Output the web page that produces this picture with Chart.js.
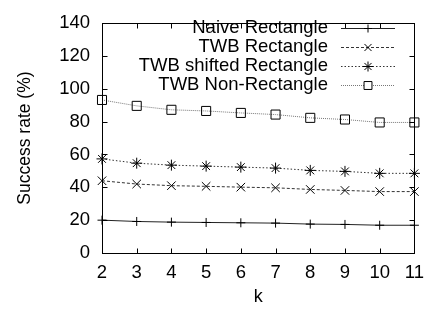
<!DOCTYPE html>
<html>
<head>
<meta charset="utf-8">
<script src="https://cdn.jsdelivr.net/npm/chart.js@4/dist/chart.umd.min.js"></script>
<style>
  body { margin: 0; background: #fff; }
  canvas { display: block; }
</style>
</head>
<body>
<canvas id="c" width="433" height="311"></canvas>
<script>
const ks = [2, 3, 4, 5, 6, 7, 8, 9, 10, 11];
const naiveRect = [20, 19.2, 18.8, 18.6, 18.4, 18.2, 17.6, 17.4, 16.9, 16.9];
const twbRect = [44, 42, 41, 40.6, 40.1, 39.7, 38.7, 38.1, 37.4, 37.4];
const twbShifted = [57.3, 54.7, 53.5, 52.9, 52.3, 51.7, 50.3, 49.7, 48.5, 48.5];
const twbNonRect = [93.2, 89.6, 87.2, 86.5, 85.3, 84.3, 82.3, 81.3, 79.5, 79.5];
const seriesNames = ["Naive Rectangle", "TWB Rectangle", "TWB shifted Rectangle", "TWB Non-Rectangle"];

const FONT = "'Liberation Sans', Arial, Helvetica, sans-serif";

function pts(vals) {
  return vals.map((v, i) => ({ x: ks[i], y: v }));
}

function ds(label, vals, style, dash, color, radius, legendRadius) {
  return {
    label: label,
    data: pts(vals),
    borderColor: color,
    borderWidth: 1,
    borderDash: dash,
    pointStyle: style,
    pointRadius: radius,
    pointBorderColor: "#000",
    pointBackgroundColor: "rgba(0,0,0,0)",
    pointBorderWidth: 1,
    legendRadius: legendRadius,
    fill: false,
    tension: 0,
    clip: false
  };
}

// gnuplot style frame with inward ticks on all four sides
const frame = {
  id: "frame",
  afterDraw(chart) {
    const ctx = chart.ctx, a = chart.chartArea;
    const x = chart.scales.x, y = chart.scales.y;
    ctx.save();
    ctx.strokeStyle = "#000";
    ctx.lineWidth = 1;
    const L = Math.round(a.left) + 0.5, R = Math.round(a.right) + 0.5;
    const T = Math.round(a.top) + 0.5, B = Math.round(a.bottom) + 0.5;
    ctx.strokeRect(L, T, R - L, B - T);
    ctx.beginPath();
    y.ticks.forEach(t => {
      const py = Math.round(y.getPixelForValue(t.value)) + 0.5;
      ctx.moveTo(L, py); ctx.lineTo(L + 5, py);
      ctx.moveTo(R, py); ctx.lineTo(R - 5, py);
    });
    x.ticks.forEach(t => {
      const px = Math.round(x.getPixelForValue(t.value)) + 0.5;
      ctx.moveTo(px, B); ctx.lineTo(px, B - 5);
      ctx.moveTo(px, T); ctx.lineTo(px, T + 5);
    });
    ctx.stroke();
    ctx.restore();
  }
};

// legend inside plot: right-aligned text, line sample to the right
const keyBox = {
  id: "keyBox",
  afterDraw(chart) {
    const ctx = chart.ctx;
    ctx.save();
    ctx.font = "18.5px " + FONT;
    ctx.textAlign = "right";
    ctx.textBaseline = "middle";
    chart.data.datasets.forEach((d, i) => {
      const yy = 28 + i * 19;
      ctx.fillStyle = "#000";
      ctx.fillText(d.label, 328, yy);
      ctx.strokeStyle = d.borderColor;
      ctx.lineWidth = 1;
      ctx.setLineDash(d.borderDash);
      ctx.beginPath();
      ctx.moveTo(341, yy + 0.5);
      ctx.lineTo(395, yy + 0.5);
      ctx.stroke();
      ctx.setLineDash([]);
      ctx.strokeStyle = "#000";
      ctx.fillStyle = "#fff";
      Chart.helpers.drawPoint(ctx, {
        pointStyle: d.pointStyle, radius: d.legendRadius, borderWidth: 1, rotation: 0
      }, 368, yy + 0.5);
    });
    ctx.restore();
  }
};

new Chart(document.getElementById("c"), {
  type: "line",
  data: {
    datasets: [
      ds(seriesNames[0], naiveRect, "cross", [], "#222", 4.5, 4),
      ds(seriesNames[1], twbRect, "crossRot", [3, 2], "#333", 6, 5),
      ds(seriesNames[2], twbShifted, "star", [1.5, 2], "#333", 5.5, 5),
      ds(seriesNames[3], twbNonRect, "rect", [1, 1], "#777", 6.4, 5.6)
    ]
  },
  options: {
    responsive: false,
    animation: false,
    devicePixelRatio: 1,
    layout: { padding: { top: 14, right: 15, left: 0, bottom: 0 } },
    plugins: { legend: { display: false }, tooltip: { enabled: false } },
    scales: {
      x: {
        type: "linear",
        min: 2, max: 11,
        grid: { display: false, drawTicks: false },
        border: { display: false },
        ticks: { stepSize: 1, color: "#000", padding: 9, font: { family: FONT, size: 18.5 } },
        title: { display: true, text: "k", color: "#000", font: { family: FONT, size: 18 }, padding: { top: 0, bottom: 3 } },
        afterFit(s) { s.height = 58; }
      },
      y: {
        min: 0, max: 140,
        grid: { display: false, drawTicks: false },
        border: { display: false },
        ticks: { stepSize: 20, color: "#000", padding: 12, font: { family: FONT, size: 18.5 } },
        title: { display: true, text: "Success rate (%)", color: "#000", font: { family: FONT, size: 17.5 }, padding: { top: 15, bottom: 0 } },
        afterFit(s) { s.width = 102; }
      }
    }
  },
  plugins: [frame, keyBox]
});
</script>
</body>
</html>
